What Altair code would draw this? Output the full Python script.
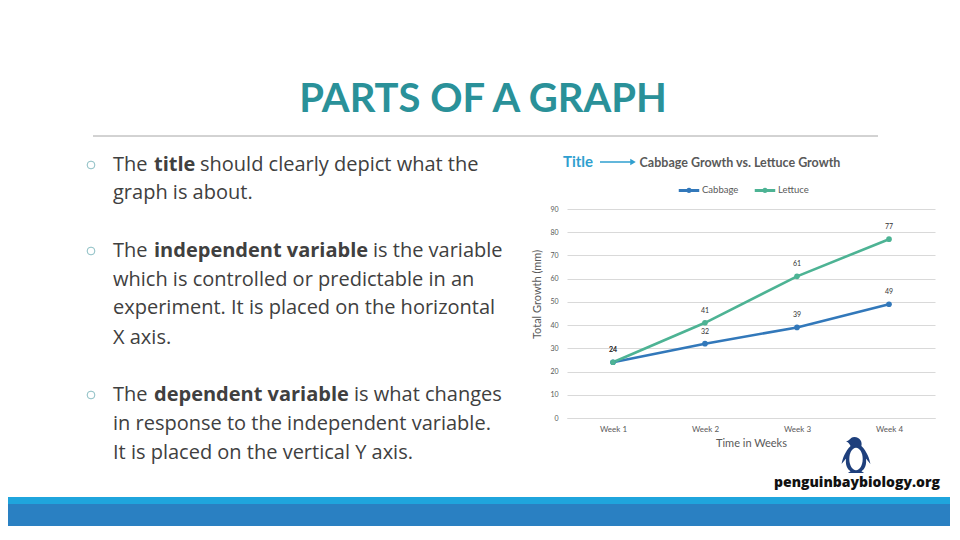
import altair as alt
import pandas as pd

# ---------------- data ----------------
weeks = ["Week 1", "Week 2", "Week 3", "Week 4"]
cabbage = [24, 32, 39, 49]
lettuce = [24, 41, 61, 77]
series_names = ["Cabbage", "Lettuce"]
series_colors = ["#3278BA", "#4DB394"]

slide_title = "PARTS OF A GRAPH"
chart_title = "Cabbage Growth vs. Lettuce Growth"
y_title = "Total Growth (mm)"
x_title = "Time in Weeks"

# bullet text segments: (text, bold)
bullet_lines = [
    [("The ", False), ("title", True), ("should clearly depict what the", False)],
    [("graph is about.", False)],
    [("The ", False), ("independent variable", True), ("is the variable", False)],
    [("which is controlled or predictable in an", False)],
    [("experiment. It is placed on the horizontal", False)],
    [("X axis.", False)],
    [("The ", False), ("dependent variable", True), ("is what changes", False)],
    [("in response to the independent variable.", False)],
    [("It is placed on the vertical Y axis.", False)],
]
line_y = [165, 193, 251, 280, 308, 338, 395, 424, 453]
seg_x = {
    0: [113, 154, 200],
    2: [113, 154, 373],
    6: [113, 154, 354],
}
bullet_y = [165, 251, 395]

rows = []
for i, w in enumerate(weeks):
    rows.append({"week": w, "crop": "Cabbage", "growth": cabbage[i]})
for i, w in enumerate(weeks):
    rows.append({"week": w, "crop": "Lettuce", "growth": lettuce[i]})
df = pd.DataFrame(rows)

# plot origin on the page
OX, OY = 567, 209
W, H = 368, 209
ONE = pd.DataFrame({"k": [0]})
BODY = "Lato"
TEXTFONT = "Open Sans"
GREY = "#595959"


def label(text, x, y, size, color, weight="normal", align="left", font=BODY):
    return alt.Chart(ONE).mark_text(
        text=text, fontSize=size, color=color, fontWeight=weight,
        align=align, baseline="middle", font=font
    ).encode(x=alt.value(x - OX), y=alt.value(y - OY))


legend_symbol = ("M-1,0H1M0.12,0A0.12,0.12 0 1 1 -0.12,0"
                 "A0.12,0.12 0 1 1 0.12,0Z")

xenc = alt.X("week:N", sort=weeks,
             scale=alt.Scale(type="point", padding=0.5),
             axis=alt.Axis(title=x_title, labelFontSize=8, labelColor=GREY,
                           labelAngle=0, labelPadding=7, ticks=False,
                           domainColor="#d9d9d9", titleFontSize=11,
                           titleColor=GREY, titleFontWeight="normal",
                           titlePadding=4, labelFont=BODY, titleFont=BODY))
yenc = alt.Y("growth:Q", scale=alt.Scale(domain=[0, 90]),
             axis=alt.Axis(title=y_title, values=list(range(0, 91, 10)),
                           labelFontSize=7, labelColor=GREY, ticks=False,
                           domain=False, gridColor="#d9d9d9", labelPadding=9,
                           titleFontSize=11, titleColor=GREY,
                           titleFontWeight="normal", titleX=-25, titleY=85,
                           titleAlign="center", labelFont=BODY, titleFont=BODY))
cscale = alt.Scale(domain=series_names, range=series_colors)
cenc = alt.Color("crop:N", scale=cscale,
                 legend=alt.Legend(title=None, orient="none", direction="horizontal",
                                   legendX=110, legendY=-31, symbolType=legend_symbol,
                                   symbolSize=420, symbolStrokeWidth=3,
                                   labelFontSize=9.5, labelColor=GREY,
                                   labelFont=BODY, labelOffset=1, columnPadding=9))

base = alt.Chart(df)
lines = base.mark_line(strokeWidth=2.6).encode(x=xenc, y=yenc, color=cenc)
pts = base.mark_point(filled=True, size=32, opacity=1).encode(
    x=xenc, y=yenc, color=alt.Color("crop:N", scale=cscale, legend=None))
vals = base.mark_text(dy=-12, fontSize=7, color="#333333", font=BODY).encode(
    x=xenc, y=yenc, text="growth:Q")

layers = [lines, pts, vals]

# slide title
layers.append(label(slide_title, 483, 100, 40, "#2A9199", "bold", "center"))

# separator rule
layers.append(alt.Chart(ONE).mark_rule(color="#a6a6a6", strokeWidth=1).encode(
    x=alt.value(93 - OX), x2=alt.value(878 - OX), y=alt.value(136 - OY)))

# bullets
for by in bullet_y:
    layers.append(alt.Chart(ONE).mark_point(shape="circle", filled=False, size=60,
                                            color="#5aa3ab", strokeWidth=1).encode(
        x=alt.value(91 - OX), y=alt.value(by - OY)))

for i, segs in enumerate(bullet_lines):
    xs = seg_x.get(i, [113])
    for j, (t, b) in enumerate(segs):
        layers.append(label(t, xs[j], line_y[i], 20, "#404040",
                            "bold" if b else "normal", font=TEXTFONT))

# chart title + "Title" pointer
layers.append(label("Title", 578, 162, 15, "#2F9FCF", "bold", "center"))
layers.append(alt.Chart(ONE).mark_rule(color="#2F9FCF", strokeWidth=1.5).encode(
    x=alt.value(600 - OX), x2=alt.value(631 - OX), y=alt.value(162 - OY)))
layers.append(alt.Chart(ONE).mark_point(shape="triangle-right", filled=True, size=40,
                                        color="#2F9FCF", opacity=1).encode(
    x=alt.value(633 - OX), y=alt.value(162 - OY)))
layers.append(label(chart_title, 740, 163, 12.5, GREY, "bold", "center"))

# bottom bands
layers.append(alt.Chart(ONE).mark_rect(color="#1FA5DD").encode(
    x=alt.value(-600), x2=alt.value(500), y=alt.value(497 - OY), y2=alt.value(504 - OY)))
layers.append(alt.Chart(ONE).mark_rect(color="#2A80C2").encode(
    x=alt.value(-600), x2=alt.value(500), y=alt.value(504 - OY), y2=alt.value(560 - OY)))

# logo
penguin = ("M -0.1,-1 C 0.25,-1 0.35,-0.7 0.3,-0.5 C 0.6,-0.2 0.75,0.2 0.8,0.5 "
           "L 0.55,0.2 C 0.6,0.5 0.5,0.8 0.3,0.9 L 0.45,1 L -0.45,1 L -0.3,0.9 "
           "C -0.5,0.8 -0.6,0.5 -0.55,0.2 L -0.8,0.5 C -0.75,0.2 -0.6,-0.2 -0.3,-0.5 "
           "C -0.35,-0.6 -0.4,-0.7 -0.55,-0.75 C -0.35,-0.8 -0.3,-1 -0.1,-1 Z")
belly = "M 0,-1 A 0.6,1 0 1 1 0,1 A 0.6,1 0 1 1 0,-1 Z"
layers.append(alt.Chart(ONE).mark_point(shape=penguin, filled=True, size=1300,
                                        color="#1E3F7C", opacity=1).encode(
    x=alt.value(856 - OX), y=alt.value(455 - OY)))
layers.append(alt.Chart(ONE).mark_point(shape=belly, filled=True, size=500,
                                        color="#ffffff", opacity=1).encode(
    x=alt.value(856 - OX), y=alt.value(459 - OY)))
layers.append(label("penguinbaybiology.org", 857, 483, 14, "#111111", 900, "center",
                    font="Open Sans"))

chart = alt.layer(*layers).properties(
    width=W, height=H,
    padding={"left": OX - 8, "top": OY - 8, "right": 15, "bottom": 108},
    autosize=alt.AutoSizeParams(type="none"),
).configure_view(stroke=None)

chart.save("out.html", embed_options={"renderer": "svg", "actions": False})
